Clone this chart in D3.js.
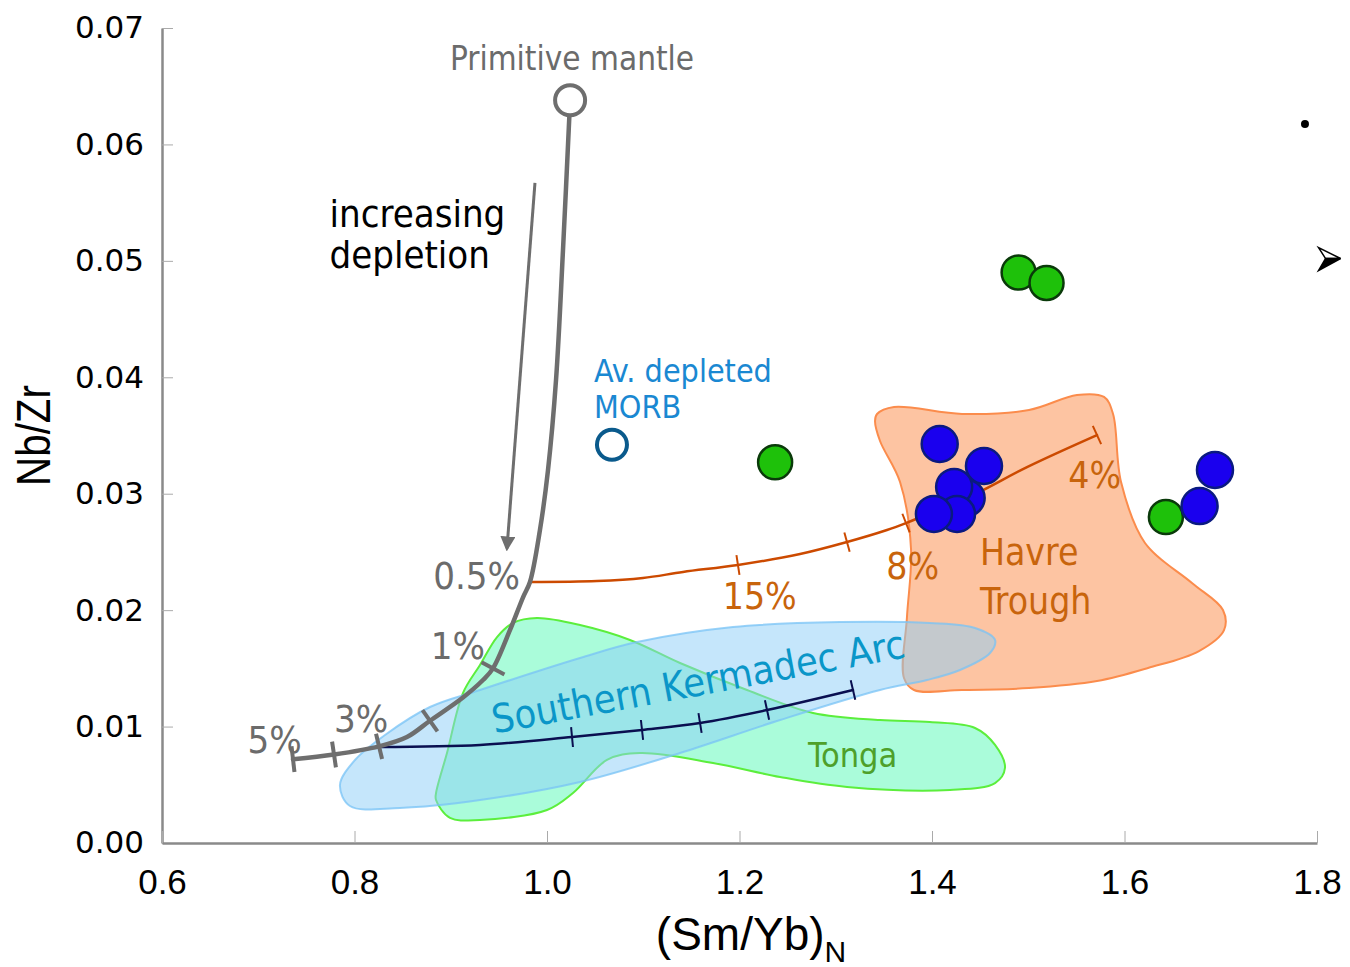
<!DOCTYPE html>
<html>
<head>
<meta charset="utf-8">
<script src="https://cdn.jsdelivr.net/npm/d3@7"></script>
<style>
  body { margin: 0; background: #fff; }
  svg { display: block; }
</style>
</head>
<body>
<script>
let width = 1350,
    height = 967

// ---- data (x = (Sm/Yb)N, y = Nb/Zr) ----
const xTicks = [0.6, 0.8, 1.0, 1.2, 1.4, 1.6, 1.8]
const yTicks = [0, 0.01, 0.02, 0.03, 0.04, 0.05, 0.06, 0.07]

const primitiveMantle = [1.024, 0.0638]
const depletedMorb = [1.0675, 0.0342]

const greenPts = [[1.490, 0.0490], [1.519, 0.0481], [1.237, 0.0327], [1.643, 0.0280]]
const bluePts = [[1.408, 0.03427], [1.454, 0.03238], [1.436, 0.02963], [1.423, 0.03058],
                 [1.426, 0.02826], [1.402, 0.02826], [1.694, 0.03204], [1.678, 0.02894]]

// melting curve from primitive mantle
const grayCurve = [[1.024, 0.0638], [1.0166, 0.0509], [1.0094, 0.0398], [1.0010, 0.0320],
                   [0.9927, 0.0269], [0.9823, 0.02242], [0.9751, 0.0211], [0.9616, 0.0183],
                   [0.9439, 0.0150], [0.9335, 0.0140], [0.9127, 0.0125], [0.8784, 0.0105],
                   [0.8545, 0.0091], [0.8255, 0.0083], [0.7787, 0.0076], [0.7361, 0.0072]]
const grayTickIdx = [8, 11, 13, 14, 15]

const orangeCurve = [[0.9823, 0.02242], [1.0519, 0.02250], [1.0997, 0.02276], [1.1413, 0.02328],
                     [1.1984, 0.02388], [1.2629, 0.02482], [1.3117, 0.02585], [1.3532, 0.02688],
                     [1.3730, 0.02748], [1.4010, 0.02843], [1.4468, 0.03006], [1.4987, 0.03229],
                     [1.5714, 0.03504]]
const orangeTickIdx = [4, 6, 8, 12]

const navyCurve = [[0.8255, 0.00825], [0.9304, 0.00842], [1.0260, 0.00910], [1.0987, 0.00971],
                   [1.1590, 0.01031], [1.2286, 0.01142], [1.3179, 0.01314]]
const navyTickIdx = [2, 3, 4, 5, 6]

const skaRegion = [[0.7953, 0.00318], [0.7849, 0.00498], [0.8005, 0.00713], [0.8317, 0.00928],
                   [0.8784, 0.01168], [0.9304, 0.01314], [1.0343, 0.01589], [1.0935, 0.01726],
                   [1.1932, 0.01855], [1.3044, 0.01898], [1.3979, 0.01890], [1.4447, 0.01847],
                   [1.4655, 0.01744], [1.4603, 0.01632], [1.4291, 0.01486], [1.3948, 0.01400],
                   [1.3460, 0.01314], [1.2421, 0.01056], [1.1382, 0.00773], [1.0343, 0.00524],
                   [0.9304, 0.00369], [0.8473, 0.00301]]

const tongaRegion = [[0.8992, 0.00215], [0.8847, 0.00369], [0.8847, 0.00429], [0.8961, 0.00773],
                     [0.9127, 0.01288], [0.9304, 0.01529], [0.9481, 0.01769], [0.9647, 0.01890],
                     [0.9896, 0.01932], [1.0343, 0.01872], [1.0862, 0.01744], [1.1382, 0.01546],
                     [1.2078, 0.01314], [1.2764, 0.01117], [1.3460, 0.01056], [1.3979, 0.01039],
                     [1.4447, 0.00988], [1.4655, 0.00842], [1.4758, 0.00644], [1.4655, 0.00515],
                     [1.4187, 0.00455], [1.3117, 0.00481], [1.2421, 0.00567], [1.1725, 0.00687],
                     [1.0966, 0.00773], [1.0623, 0.00713], [1.0270, 0.00429], [1.0000, 0.00283],
                     [0.9304, 0.00198]]

const havreRegion = [[1.3429, 0.03685], [1.3605, 0.03745], [1.4312, 0.03685], [1.5008, 0.03719],
                     [1.5506, 0.03848], [1.5787, 0.03831], [1.5881, 0.03685], [1.5964, 0.03101],
                     [1.6213, 0.02577], [1.6701, 0.02233], [1.7023, 0.02001], [1.7034, 0.01829],
                     [1.6774, 0.01649], [1.6244, 0.01503], [1.5714, 0.01391], [1.5008, 0.01331],
                     [1.4312, 0.01314], [1.3813, 0.01314], [1.3709, 0.01417], [1.3740, 0.01941],
                     [1.3782, 0.02525], [1.3668, 0.03101], [1.3460, 0.03453], [1.3408, 0.03625]]

const depletionArrow = [[0.9875, 0.0567], [0.9584, 0.0253]]

// labels: [text, x, y, anchor]
const grayLabels = [['0.5%', 0.9720, 0.0218, 'end'], ['1%', 0.9355, 0.0158, 'end'],
                    ['3%', 0.8068, 0.0095, 'middle'], ['5%', 0.7170, 0.0077, 'middle']]
const orangeLabels = [['15%', 1.2210, 0.0201], ['8%', 1.3800, 0.0227], ['4%', 1.5690, 0.0305]]

let svg = d3.select('body').append('svg')
    .attr('width', width)
    .attr('height', height)

const x = d3.scaleLinear().domain([0.6, 1.8]).range([162, 1317])
const y = d3.scaleLinear().domain([0, 0.07]).range([843, 28])

const tahoma = '"DejaVu Sans Condensed", "DejaVu Sans", sans-serif'

// ---- axes ----
let yAxis = svg.append('g')
    .attr('transform', 'translate(' + x(0.6) + ',0)')
    .call(d3.axisLeft(y).tickValues(yTicks).tickFormat(d3.format('.2f'))
      .tickSize(-11).tickSizeOuter(0).tickPadding(18))
yAxis.select('.domain').attr('stroke', '#8a8a8a').attr('stroke-width', 2.5)
yAxis.selectAll('.tick line').attr('stroke', '#aaa')
yAxis.selectAll('.tick text')
    .attr('font-family', '"DejaVu Sans", sans-serif').attr('font-size', 31).attr('fill', '#000')

let xAxis = svg.append('g')
    .attr('transform', 'translate(0,' + y(0) + ')')
    .call(d3.axisBottom(x).tickValues(xTicks).tickFormat(d3.format('.1f'))
      .tickSize(-12).tickSizeOuter(0).tickPadding(26))
xAxis.select('.domain').attr('stroke', '#8a8a8a').attr('stroke-width', 2.5)
xAxis.selectAll('.tick line').attr('stroke', '#aaa')
xAxis.selectAll('.tick text')
    .attr('font-family', '"Liberation Sans", Arial, sans-serif').attr('font-size', 35).attr('fill', '#000')

svg.append('text')
    .attr('transform', 'translate(50,' + y(0.035) + ') rotate(-90) scale(0.84,1)')
    .attr('text-anchor', 'middle')
    .attr('font-family', '"Liberation Sans", Arial, sans-serif')
    .attr('font-size', 48)
    .text('Nb/Zr')

let xt = svg.append('text')
    .attr('x', x(1.212)).attr('y', 950)
    .attr('text-anchor', 'middle')
    .attr('font-family', '"Liberation Sans", Arial, sans-serif')
    .attr('font-size', 46)
xt.append('tspan').text('(Sm/Yb)')
xt.append('tspan').attr('font-size', 30).attr('dy', 12).text('N')

// ---- regions ----
const area = d3.line().x(d => x(d[0])).y(d => y(d[1])).curve(d3.curveCatmullRomClosed.alpha(0.5))

svg.append('path').datum(tongaRegion)
    .attr('d', area)
    .attr('fill', '#aafcda').attr('stroke', '#5cee3c').attr('stroke-width', 2)

svg.append('path').datum(havreRegion)
    .attr('d', area)
    .attr('fill', '#fdc4a2').attr('stroke', '#fb8c4c').attr('stroke-width', 2)

svg.append('path').datum(skaRegion)
    .attr('d', area)
    .attr('fill', 'rgba(140,205,247,0.5)').attr('stroke', 'rgba(120,195,245,0.75)').attr('stroke-width', 2)

// ---- curves with ticks ----
const line = d3.line().x(d => x(d[0])).y(d => y(d[1])).curve(d3.curveCatmullRom.alpha(0.5))

function drawCurve(pts, ticks, color, w, tickLen, tickW) {
  svg.append('path').datum(pts)
    .attr('d', line)
    .attr('fill', 'none').attr('stroke', color).attr('stroke-width', w)
    .attr('stroke-linecap', 'round')
  ticks.forEach(i => {
    let a = pts[Math.max(i - 1, 0)], b = pts[Math.min(i + 1, pts.length - 1)]
    let dx = x(b[0]) - x(a[0]), dy = y(b[1]) - y(a[1])
    let len = Math.hypot(dx, dy)
    let nx = -dy / len * tickLen / 2, ny = dx / len * tickLen / 2
    let cx = x(pts[i][0]), cy = y(pts[i][1])
    svg.append('line')
      .attr('x1', cx - nx).attr('y1', cy - ny)
      .attr('x2', cx + nx).attr('y2', cy + ny)
      .attr('stroke', color).attr('stroke-width', tickW)
  })
}

drawCurve(orangeCurve, orangeTickIdx, '#cc4a00', 2.5, 20, 2)
drawCurve(navyCurve, navyTickIdx, '#0a0f50', 2.5, 20, 2)
drawCurve(grayCurve, grayTickIdx, '#6e6e6e', 4.5, 26, 4)

// ---- depletion arrow ----
svg.append('defs').append('marker')
    .attr('id', 'arrowhead')
    .attr('viewBox', '0 0 10 10')
    .attr('refX', 8).attr('refY', 5)
    .attr('markerWidth', 5).attr('markerHeight', 5)
    .attr('orient', 'auto')
  .append('path')
    .attr('d', 'M 0 0 L 10 5 L 0 10 z')
    .attr('fill', '#6e6e6e')

svg.append('line')
    .attr('x1', x(depletionArrow[0][0])).attr('y1', y(depletionArrow[0][1]))
    .attr('x2', x(depletionArrow[1][0])).attr('y2', y(depletionArrow[1][1]))
    .attr('stroke', '#6e6e6e').attr('stroke-width', 3)
    .attr('marker-end', 'url(#arrowhead)')

// ---- points ----
svg.append('circle')
    .attr('cx', x(primitiveMantle[0])).attr('cy', y(primitiveMantle[1])).attr('r', 15)
    .attr('fill', '#fff').attr('stroke', '#6e6e6e').attr('stroke-width', 4)

svg.append('circle')
    .attr('cx', x(depletedMorb[0])).attr('cy', y(depletedMorb[1])).attr('r', 15)
    .attr('fill', '#fff').attr('stroke', '#0a5a8c').attr('stroke-width', 4)

svg.append('g').selectAll('circle').data(greenPts).join('circle')
    .attr('cx', d => x(d[0])).attr('cy', d => y(d[1])).attr('r', 17)
    .attr('fill', '#1ec10a').attr('stroke', '#0a3a0a').attr('stroke-width', 2.5)

svg.append('g').selectAll('circle').data(bluePts).join('circle')
    .attr('cx', d => x(d[0])).attr('cy', d => y(d[1])).attr('r', 18)
    .attr('fill', '#1a00ee').attr('stroke', '#0a1a80').attr('stroke-width', 2.5)

// ---- labels ----
function label(t, lx, ly, size, color, anchor) {
  return svg.append('text')
    .attr('x', x(lx)).attr('y', y(ly))
    .attr('text-anchor', anchor || 'start')
    .attr('font-family', tahoma)
    .attr('font-size', size)
    .attr('fill', color)
    .text(t)
}

label('Primitive mantle', 1.026, 0.0664, 33, '#6b6b6b', 'middle')
label('increasing', 0.774, 0.0529, 38, '#000')
label('depletion', 0.774, 0.0494, 38, '#000')
label('Av. depleted', 1.0488, 0.0396, 32, '#1a88d2')
label('MORB', 1.0488, 0.0365, 32, '#1a88d2')
label('Havre', 1.4498, 0.0239, 37, '#c8640c')
label('Trough', 1.4498, 0.0197, 37, '#c8640c')
label('Tonga', 1.2712, 0.0065, 34, '#4ea02a')

grayLabels.forEach(d => label(d[0], d[1], d[2], 38, '#6b6b6b', d[3]))
orangeLabels.forEach(d => label(d[0], d[1], d[2], 37, '#c8640c', 'middle'))

svg.append('text')
    .attr('transform', 'translate(' + x(0.9454) + ',' + y(0.0094) + ') rotate(-10.5)')
    .attr('font-family', tahoma)
    .attr('font-size', 39.5)
    .attr('fill', '#0a96c8')
    .text('Southern Kermadec Arc')

// stray marks at right edge
const strayDot = [1.7875, 0.06175]
const strayPointer = [1.812, 0.0502]
svg.append('circle')
    .attr('cx', x(strayDot[0])).attr('cy', y(strayDot[1])).attr('r', 4).attr('fill', '#000')
let ptr = svg.append('g')
    .attr('transform', 'translate(' + x(strayPointer[0]) + ',' + y(strayPointer[1]) + ')')
ptr.append('path')
    .attr('d', 'M 12 0 L -10 -11 L -3 0 Z')
    .attr('fill', '#fff').attr('stroke', '#000').attr('stroke-width', 1.5)
ptr.append('path')
    .attr('d', 'M 12 0 L -3 0 L -10 12 Z')
    .attr('fill', '#000').attr('stroke', '#000').attr('stroke-width', 1.5)
</script>
</body>
</html>
